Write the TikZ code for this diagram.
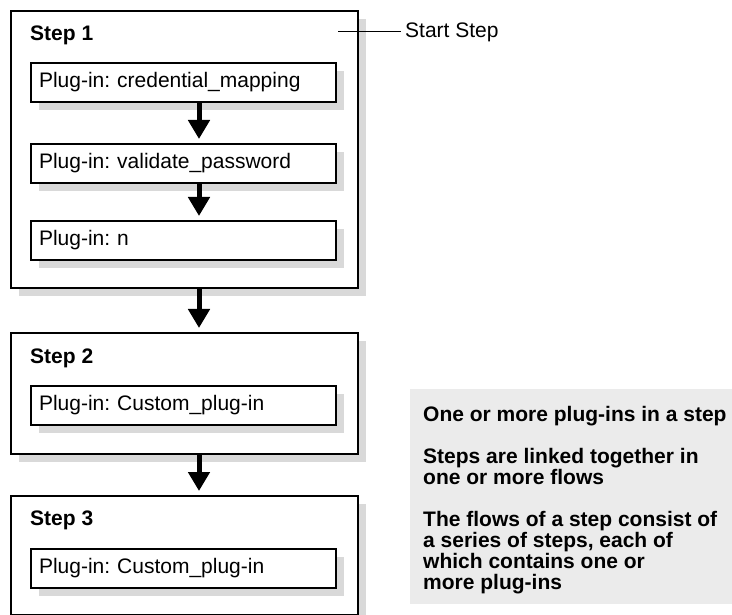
\documentclass[tikz,border=0pt]{standalone}
\usepackage{fontspec}
\setmainfont{Liberation Sans}
\usepackage{tikz}
\usetikzlibrary{arrows.meta,shadows}
\definecolor{shadowgray}{HTML}{D9D9D9}
\definecolor{notegray}{HTML}{EBEBEB}
\frenchspacing
\tikzstyle{boxshadow} = [drop shadow={shadow xshift=8pt,shadow yshift=-8pt,fill=shadowgray,opacity=1}]
\tikzstyle{stepbox} = [draw, line width=2pt, fill=white, anchor=north west, minimum width=347pt, inner sep=0pt, boxshadow]
\tikzstyle{plugin} = [draw, line width=2pt, fill=white, anchor=north west, minimum height=39pt, text width=289pt, inner xsep=8pt, inner ysep=0pt, align=left, boxshadow]
\tikzstyle{steptitle} = [anchor=base west, inner sep=0pt, font=\fontsize{21pt}{21pt}\selectfont\bfseries]
\tikzstyle{flow} = [line width=5pt, -{Triangle[width=21pt,length=19pt]}, shorten >=4pt]

\begin{document}
\begin{tikzpicture}[x=1pt,y=-1pt,font=\fontsize{21pt}{21pt}\selectfont]
\useasboundingbox (0,0) rectangle (732,615);
\coordinate (ax) at (199,0);
% steps
\node[stepbox, minimum height=277pt] (step1) at (10,10) {};
\node[steptitle] (t1) at (30,41) {Step 1};
\node[plugin] (p11) at (30,62) {Plug-in: credential\_mapping};
\node[plugin] (p12) at (30,143) {Plug-in: validate\_password};
\node[plugin] (p13) at (30,220) {Plug-in: n};
\draw[flow] (p11.south -| ax) -- (p12.north -| ax);
\draw[flow] (p12.south -| ax) -- (p13.north -| ax);

\node[stepbox, minimum height=121pt] (step2) at (10,332) {};
\node[steptitle] (t2) at (30,363) {Step 2};
\node[plugin] (p21) at (30,385) {Plug-in: Custom\_plug-in};

\node[stepbox, minimum height=119pt] (step3) at (10,495) {};
\node[steptitle] (t3) at (30,525) {Step 3};
\node[plugin] (p31) at (30,548) {Plug-in: Custom\_plug-in};

\draw[flow] (step1.south -| ax) -- (step2.north -| ax);
\draw[flow] (step2.south -| ax) -- (step3.north -| ax);

% start step callout
\coordinate (startpt) at (338,32);
\node[anchor=west, inner xsep=4pt, inner ysep=0pt] (startlbl) at (401,32) {Start Step};
\draw[line width=1pt] (startpt) -- (startlbl.west);

% notes
\node[fill=notegray, anchor=north west, minimum width=322pt, minimum height=215pt, inner sep=0pt] (notebg) at (410,389) {};
\node[anchor=north west, inner sep=0pt, align=left, font=\fontsize{21pt}{21pt}\selectfont\bfseries] (notes) at (423,406)
  {One or more plug-ins in a step\\[21pt]Steps are linked together in\\one or more flows\\[21pt]The flows of a step consist of\\a series of steps, each of\\which contains one or\\more plug-ins};
\end{tikzpicture}
\end{document}
